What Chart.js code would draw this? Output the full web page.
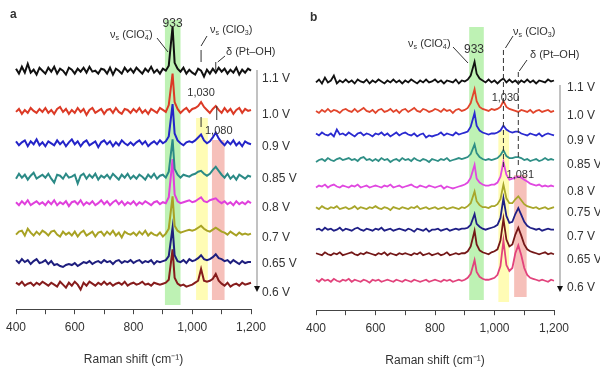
<!DOCTYPE html>
<html>
<head>
<meta charset="utf-8">
<script src="https://cdn.jsdelivr.net/npm/chart.js@4.4.1/dist/chart.umd.min.js"></script>
<style>
  body { margin: 0; background: #fff; }
  #wrap { position: relative; width: 600px; height: 374px; }
  canvas { position: absolute; top: 0; }
</style>
</head>
<body>
<div id="wrap">
  <canvas id="panelA" width="300" height="374" style="left:0"></canvas>
  <canvas id="panelB" width="300" height="374" style="left:300px"></canvas>
</div>
<script>
// Raman shift grid (cm-1)
var shifts = [400,410,420,430,440,450,460,470,480,490,
  500,510,520,530,540,550,560,570,580,590,
  600,610,620,630,640,650,660,670,680,690,
  700,710,720,730,740,750,760,770,780,790,
  800,810,820,830,840,850,860,870,880,890,
  900,910,920,933,940,950,960,970,980,990,
  1000,1010,1020,1030,1040,1050,1060,1070,1080,1090,
  1100,1110,1120,1130,1140,1150,1160,1170,1180,1190,
  1200];

var tickValues = [400,500,600,700,800,900,1000,1100,1200];
var tickLabels = ['400','','600','','800','','1,000','','1,200'];

// panel a spectra (intensity, arbitrary units)
var voltsA = ['1.1 V','1.0 V','0.9 V','0.85 V','0.8 V','0.7 V','0.65 V','0.6 V'];
var a11 = [2,-3,4,-2,7,-2,1,-4,3,0, -3,3,-1,4,-3,2,0,-4,3,1, -3,2,-1,3,-2,4,-1,0,-3,2, 1,-3,3,-4,2,0,-3,3,-1,2, -2,3,0,-3,2,-1,4,-2,1,-3, 2,0,5,45,8,2,-1,3,-3,1, -2,-4,2,0,-6,1,-3,2,-2,3, -1,2,-3,1,-2,3,-4,1,-2,2, 0];
var a10 = [-1,2,-3,1,-2,3,0,-2,2,-1, 3,-2,1,-3,2,4,-1,2,-3,1, -2,3,-1,2,-4,1,3,-2,0,2, -3,1,2,-2,3,-1,-3,2,1,-2, 2,-1,3,-2,1,-3,2,0,-2,3, 1,-1,6,38,9,2,-2,1,3,-1, 2,3,5,9,4,1,-2,2,5,1, -2,3,-1,2,-3,1,3,-2,2,0, 1];
var a09 = [2,-2,1,3,-3,2,-1,4,-2,1, -3,2,0,-2,3,-1,2,-3,1,4, -1,2,-3,1,3,-2,0,2,-4,1, 3,-1,2,-3,1,-2,3,0,-2,1, -2,1,3,-1,2,-3,0,2,-1,3, 0,2,7,40,10,3,0,-2,1,2, 1,3,6,9,3,0,2,6,11,5, 1,-2,2,-1,3,-2,1,-3,2,0, -1];
var a085 = [-2,3,-1,2,-3,1,4,-2,0,2, -1,3,-2,-6,2,1,-2,3,-1,0, 2,-7,1,3,-2,2,-1,3,-3,1, -1,2,-2,3,0,-3,2,-1,3,-2, 1,-2,2,0,-3,2,-1,3,-2,1, 2,-1,5,38,8,2,-1,2,1,0, 2,3,5,6,3,1,3,7,10,6, 2,-1,3,-2,1,-3,2,0,-2,1, 0];
var a08 = [1,-2,2,-1,3,-2,0,2,-1,1, -2,2,-1,3,-2,1,-1,2,-3,1, 2,-1,3,-2,1,-1,2,-2,0,3, -1,2,-2,1,3,-1,2,-2,1,-1, 2,-2,1,-1,2,0,-2,1,2,-1, 1,0,6,45,9,2,0,1,2,3, 1,2,4,6,2,1,3,4,5,2, 0,2,-1,1,-2,2,-1,1,-1,2, 0];
var a07 = [-1,2,3,-2,5,1,-2,2,-1,3, 1,-2,2,3,-1,-3,2,-1,1,-2, 2,-3,1,3,-2,0,2,-3,1,2, -2,2,-1,3,-2,1,-4,2,0,-1, 1,-2,2,-1,3,-2,1,-1,-2,1, -3,0,5,38,8,3,1,2,3,4, 3,4,6,8,5,3,2,4,6,4, 2,1,-1,2,0,-2,1,-1,0,-1, 0];
var a065 = [2,-1,3,0,2,-2,1,3,-1,0, 2,-2,1,-3,-2,-4,-5,-3,-2,-3, -1,-4,-2,0,-1,1,-2,0,1,-1, 2,0,1,-2,1,2,-1,1,0,2, -1,1,2,-1,1,0,2,-2,1,0, 1,2,6,35,7,1,0,2,-1,3, 1,2,4,7,3,2,3,5,8,4, 3,1,2,-1,2,0,-2,1,-1,0, 0];
var a06 = [1,-1,2,-2,0,1,-2,1,-1,2, 0,-2,1,-1,-3,2,-1,-4,1,-2, 2,-1,-6,1,-2,2,0,-2,1,-1, 2,-1,1,-2,0,1,-1,2,-2,0, 1,-1,0,2,-1,0,-2,1,0,-1, 0,1,4,35,6,0,-2,-1,-3,-2, -1,1,3,15,3,2,3,5,10,3, 0,-2,1,-3,-1,0,-2,1,-1,0, 1];

// panel b spectra
var voltsB = ['1.1 V','1.0 V','0.9 V','0.85 V','0.8 V','0.75 V','0.7 V','0.65 V','0.6 V'];
var b11 = [-1,2,-2,4,-1,1,6,-2,1,-1, 2,-1,1,-2,2,0,-1,2,-2,1, -1,2,0,-2,1,-1,2,-1,1,-2, 1,-1,2,0,-2,1,-1,2,-1,0, 2,-1,1,-2,1,0,-1,2,-2,1, 0,2,6,20,8,3,1,-1,2,-1, 1,-2,1,3,-1,2,-1,1,-2,1, -1,2,-1,1,-2,1,0,-1,2,0, 1];
var b10 = [0,-2,1,-1,2,-1,1,0,-2,1, 2,0,-1,2,-1,1,3,0,-1,1, -2,1,2,-1,0,2,-1,1,-2,1, 2,-1,1,3,0,-1,2,1,-1,0, 2,1,-1,2,0,1,-2,1,2,0, 1,3,8,22,10,4,2,1,0,2, 1,2,4,10,4,2,1,0,-1,1, 0,-1,1,-2,0,1,-1,0,1,-1, 0];
var b09 = [1,-1,2,0,-1,1,-2,5,0,1, -1,2,0,-2,1,2,-1,1,0,-2, 1,0,2,-1,1,-2,0,2,-1,1, 2,0,-1,1,-2,0,1,-3,-1,-2, -1,0,2,-1,1,0,-1,2,0,1, 2,3,8,22,9,4,2,1,0,1, 1,2,4,9,5,3,2,3,3,1, 0,-1,1,0,-1,1,-2,0,1,0, -1];
var b085 = [-2,0,1,-1,2,0,-1,1,2,0, 1,2,0,1,-1,2,3,0,1,-1, 1,-1,2,0,1,-2,0,1,-1,2, 0,1,-1,2,0,-1,1,0,-2,1, 0,-1,1,0,2,-1,0,1,2,1, 2,3,6,16,7,3,1,0,1,0, 1,2,5,10,4,2,2,3,3,2, 0,1,-1,0,1,-1,0,2,0,1, 0];
var b08 = [-1,1,0,2,-1,1,2,0,-1,1, 0,-1,1,0,2,-1,0,1,-1,0, 1,0,-1,1,0,2,-1,0,1,-1, 0,1,2,0,-1,1,0,-1,1,0, -1,0,1,-2,0,-1,-2,-1,0,1, 2,4,9,22,8,4,2,1,1,2, 2,4,10,25,12,7,8,9,10,9, 7,5,3,2,1,2,0,1,0,1, 0];
var b075 = [1,-1,2,0,-1,1,0,2,-1,0, 1,-1,0,2,-1,1,0,-1,1,0, 2,0,-1,1,0,-2,1,0,-1,1, 0,-1,1,0,2,-1,0,1,-1,0, 1,-1,0,1,-1,0,1,0,-1,1, 0,2,5,17,7,3,1,1,0,2, 2,4,9,24,10,5,5,9,12,8, 4,2,1,0,1,-1,0,1,-1,0, 1];
var b07 = [0,1,-1,2,0,1,-1,0,2,-1, 1,0,-1,1,2,0,-1,1,0,-1, 1,0,2,-1,0,1,-1,0,1,0, -1,1,0,-2,1,0,-1,1,-2,0, 0,1,-1,0,1,-1,0,1,0,1, 1,2,5,16,6,3,1,0,1,2, 3,5,12,32,14,7,8,16,22,15, 8,4,2,1,0,1,-1,0,1,0, 0];
var b065 = [1,0,-1,2,0,-1,1,0,2,-1, 0,1,2,0,-1,1,0,2,1,0, -1,1,0,2,-1,1,0,-1,1,0, 1,0,-1,1,0,2,-1,0,1,-1, 0,1,-1,0,2,-1,0,1,0,1, 1,3,8,24,10,4,2,1,0,2, 3,5,14,36,15,8,10,20,27,19, 10,5,3,2,1,0,1,2,0,1, 0];
var b06 = [1,-1,2,0,1,-1,2,0,-1,1, 0,2,-1,1,0,-1,1,0,-2,1, 0,1,-1,0,1,0,-1,1,0,-1, 1,0,-1,1,0,-1,0,1,-1,0, 1,0,-1,1,0,1,-1,0,1,0, 1,3,7,21,9,4,2,1,1,2, 3,6,15,41,16,10,13,28,36,26, 13,6,3,2,1,0,1,0,-1,1, 0];

// band positions (cm-1)
var bandsA = [[907, 960], [1013, 1053], [1067, 1110]];
var bandsB = [[915, 964], [1013, 1049], [1066, 1108]];

// ---- layout / styling ----
var FONT = '"Liberation Sans", Arial, sans-serif';
var bandColors = ['rgba(125,230,105,0.5)', 'rgba(255,250,120,0.55)', 'rgba(240,150,140,0.6)'];

var panelA = {
  series: [a11, a10, a09, a085, a08, a07, a065, a06],
  colors: ['#111111', '#dc3a26', '#2424c8', '#2b8a86', '#e040dc', '#a8a224', '#1e1e7e', '#861c1c'],
  offsets: [243, 202, 169, 135, 108, 77, 48, 26],
  volts: voltsA,
  labelY: [79, 115, 147, 179, 208, 238, 264, 293],
  bands: bandsA,
  bandY: [[20, 305], [118, 300], [140, 300]],
  pad: { left: 11, right: 49, top: 0, bottom: 7 },
  yMax: 315,
  letter: 'a',
  arrow: [70, 292],
  width: 2
};
var panelB = {
  series: [b11, b10, b09, b085, b08, b075, b07, b065, b06],
  colors: ['#111111', '#e2452c', '#2a2ad0', '#2f8f86', '#e048e0', '#a8a62a', '#1f1f86', '#741818', '#e2437c'],
  offsets: [233, 203, 179, 153, 126, 104, 82, 57, 30],
  volts: voltsB,
  labelY: [88, 116, 141, 165, 192, 213, 237, 260, 288],
  bands: bandsB,
  bandY: [[27, 300], [130, 302], [175, 297]],
  pad: { left: 10, right: 46, top: 0, bottom: 6 },
  yMax: 316,
  letter: 'b',
  arrow: [85, 292],
  width: 1.8
};

function rich(ctx, x, y, parts, size) {
  var cx = x;
  parts.forEach(function (p) {
    var fs = p.s ? size * 0.65 : size;
    ctx.font = fs + 'px ' + FONT;
    var dy = p.s === 'sub' ? size * 0.32 : (p.s === 'sup' ? -size * 0.38 : 0);
    ctx.fillText(p.t, cx, y + dy);
    if (!p.keep) cx += ctx.measureText(p.t).width;
  });
}

var nuClO4 = [{t: 'ν'}, {t: 's', s: 'sub'}, {t: ' (ClO'}, {t: '4', s: 'sub', keep: true}, {t: '−', s: 'sup'}, {t: ')'}];
var nuClO3 = [{t: 'ν'}, {t: 's', s: 'sub'}, {t: ' (ClO'}, {t: '3', s: 'sub'}, {t: ')'}];
var deltaPt = [{t: 'δ (Pt–OH)'}];

function line(ctx, x1, y1, x2, y2) {
  ctx.beginPath(); ctx.moveTo(x1, y1); ctx.lineTo(x2, y2); ctx.stroke();
}

function makeDecor(p, isA) {
  return {
    id: 'decor' + p.letter,
    beforeDatasetsDraw: function (chart) {
      var ctx = chart.ctx, xs = chart.scales.x;
      ctx.save();
      p.bands.forEach(function (b, i) {
        var x1 = xs.getPixelForValue(b[0]), x2 = xs.getPixelForValue(b[1]);
        ctx.fillStyle = bandColors[i];
        ctx.fillRect(x1, p.bandY[i][0], x2 - x1, p.bandY[i][1] - p.bandY[i][0]);
      });
      ctx.restore();
    },
    afterDatasetsDraw: function (chart) {
      var ctx = chart.ctx, xs = chart.scales.x;
      var right = xs.getPixelForValue(1200);
      var x1030 = xs.getPixelForValue(1030), x1080 = xs.getPixelForValue(1080);
      ctx.save();
      ctx.fillStyle = '#333';
      ctx.strokeStyle = '#333';
      ctx.lineWidth = 1;
      ctx.textBaseline = 'middle';
      // panel letter
      ctx.font = 'bold 12px ' + FONT;
      ctx.textAlign = 'left';
      ctx.fillText(p.letter, 10, isA ? 15 : 18);
      // voltage labels + arrow
      ctx.font = '12px ' + FONT;
      p.volts.forEach(function (v, i) {
        ctx.fillText(v, right + (isA ? 11 : 13), p.labelY[i]);
      });
      ctx.strokeStyle = '#999';
      ctx.lineWidth = 1.2;
      line(ctx, right + 6, p.arrow[0], right + 6, p.arrow[1] - 4);
      ctx.fillStyle = '#111';
      ctx.beginPath();
      ctx.moveTo(right + 3, p.arrow[1] - 6);
      ctx.lineTo(right + 9, p.arrow[1] - 6);
      ctx.lineTo(right + 6, p.arrow[1]);
      ctx.closePath(); ctx.fill();
      // annotations
      ctx.fillStyle = '#333';
      ctx.strokeStyle = '#333';
      ctx.lineWidth = 1;
      if (isA) {
        rich(ctx, 110, 35, nuClO4, 11);
        rich(ctx, 210, 30, nuClO3, 11);
        rich(ctx, 226, 52, deltaPt, 11);
        ctx.textAlign = 'center';
        ctx.font = '12px ' + FONT;
        ctx.fillText('933', xs.getPixelForValue(933), 24);
        ctx.font = '11px ' + FONT;
        ctx.fillText('1,030', x1030, 93);
        ctx.fillText('1,080', x1080 + 3, 131);
        line(ctx, 157, 38, 168, 52);
        line(ctx, 207, 36, x1030, 46);
        line(ctx, 225, 56, x1080 + 2, 62);
        line(ctx, x1030, 50, x1030, 62);
        line(ctx, x1080, 62, x1080, 70);
        line(ctx, x1030, 117, x1030, 127);
        line(ctx, x1080 + 1, 106, x1080 + 1, 120);
      } else {
        rich(ctx, 108, 44, nuClO4, 11);
        rich(ctx, 213, 32, nuClO3, 11);
        rich(ctx, 230, 55, deltaPt, 11);
        ctx.textAlign = 'center';
        ctx.font = '12px ' + FONT;
        ctx.fillText('933', 174, 50);
        ctx.font = '11px ' + FONT;
        ctx.fillText('1,030', x1030 + 2, 98);
        ctx.fillText('1,081', x1080 + 2, 175);
        line(ctx, 153, 47, 168, 63);
        line(ctx, 213, 36, x1030 + 2, 48);
        line(ctx, 227, 60, x1080 + 1, 71);
        ctx.setLineDash([5, 3]);
        line(ctx, x1030, 50, x1030, 168);
        line(ctx, x1080, 72, x1080, 168);
        ctx.setLineDash([]);
      }
      ctx.restore();
    }
  };
}

function build(id, p, isA) {
  var datasets = p.series.map(function (vals, i) {
    return {
      data: shifts.map(function (x, k) { return { x: x, y: vals[k] + p.offsets[i] }; }),
      borderColor: p.colors[i],
      borderWidth: p.width,
      borderJoinStyle: 'miter',
      pointRadius: 0,
      tension: 0,
      clip: false
    };
  });
  new Chart(document.getElementById(id), {
    type: 'line',
    data: { datasets: datasets },
    options: {
      responsive: false,
      animation: false,
      devicePixelRatio: 1,
      layout: { padding: p.pad },
      plugins: { legend: { display: false }, tooltip: { enabled: false } },
      scales: {
        x: {
          type: 'linear',
          min: 400,
          max: 1200,
          afterBuildTicks: function (axis) {
            axis.ticks = tickValues.map(function (v) { return { value: v }; });
          },
          ticks: {
            autoSkip: false,
            maxRotation: 0,
            padding: 6,
            color: '#333',
            font: { size: 12, family: FONT },
            callback: function (v) { return tickLabels[tickValues.indexOf(v)]; }
          },
          grid: { drawOnChartArea: false, drawTicks: true, tickLength: 5, color: '#444' },
          border: { display: true, color: '#444', width: 1 },
          title: {
            display: true,
            text: 'Raman shift (cm⁻¹)',
            color: '#333',
            font: { size: 12, family: FONT },
            padding: { top: 12, bottom: 0 }
          }
        },
        y: { display: false, min: 0, max: p.yMax }
      }
    },
    plugins: [makeDecor(p, isA)]
  });
}

build('panelA', panelA, true);
build('panelB', panelB, false);
</script>
</body>
</html>
